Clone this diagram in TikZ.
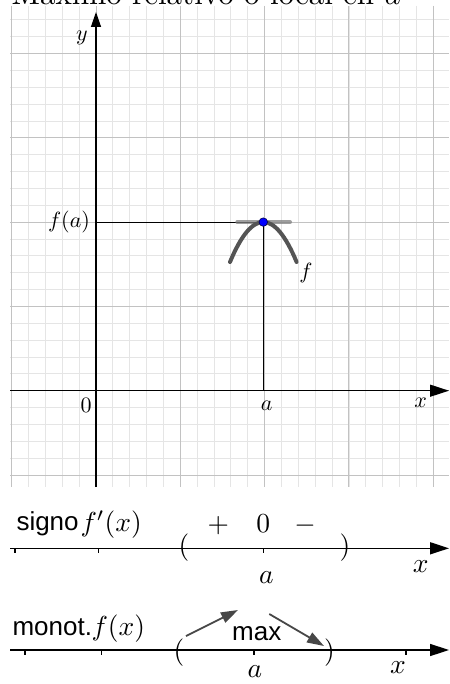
\documentclass[tikz,border=0pt]{standalone}
\usepackage{fontspec}
\setsansfont{Liberation Sans}
\usetikzlibrary{arrows.meta}
\begin{document}
\begin{tikzpicture}[x=1pt,y=-1pt,
  minorgrid/.style={draw=black!10, line width=0.8pt},
  majorgrid/.style={draw=black!24, line width=1pt},
  axis/.style={draw=black, line width=1.3pt, -{Triangle[length=15pt,width=10pt]}},
  thinline/.style={draw=black, line width=1pt},
  curve/.style={draw=black!67, line width=4pt, line cap=round},
  tangent/.style={draw=black!50, opacity=0.75, line width=4pt, line cap=round},
  pt/.style={circle, fill=blue, draw=blue!30!black, line width=0.6pt, inner sep=0pt, minimum size=8.5pt},
  lab/.style={font=\fontsize{10}{12}\selectfont, inner sep=0pt, scale=2.2},
  biglab/.style={font=\fontsize{10}{12}\selectfont, inner sep=0pt, scale=2.75},
  sans/.style={font=\fontsize{10}{12}\selectfont\sffamily, inner sep=0pt, scale=2.6},
  numline/.style={draw=black, line width=1.5pt, -{Triangle[length=19pt,width=12pt]}},
  tickmark/.style={draw=black, line width=1.2pt},
  monoarrow/.style={draw=black!72, line width=1.8pt, -{Triangle[length=17pt,width=11pt]}}
]
\useasboundingbox (0,0) rectangle (449,684);
\fill[white] (0,0) rectangle (449,684);
% title
\node[anchor=base west, inner sep=0pt, font=\fontsize{10}{12}\selectfont, scale=3.1] (title) at (11,4.5) {Máximo relativo o local en $a$};
% grid
\foreach \k in {-5,...,21} { \draw[minorgrid] ({96+16.86*\k},6) -- ({96+16.86*\k},487); }
\foreach \k in {-5,...,22} { \draw[minorgrid] (10,{390.7-16.86*\k}) -- (449,{390.7-16.86*\k}); }
\foreach \k in {-1,...,4} { \draw[majorgrid] ({96+84.3*\k},6) -- ({96+84.3*\k},487); }
\foreach \k in {-1,...,4} { \draw[majorgrid] (10,{390.7-84.3*\k}) -- (449,{390.7-84.3*\k}); }
% coordinates
\coordinate (O) at (96,390.7);
\coordinate (xstart) at (10,390.7);
\coordinate (xend) at (449,390.7);
\coordinate (ystart) at (96,487);
\coordinate (yend) at (96,12);
\coordinate (A) at (263.3,390.7);
\coordinate (FA) at (96,222.1);
\coordinate (cl) at (230,262);
\coordinate (cr) at (296.6,262);
\coordinate (tl) at (237.3,222.1);
\coordinate (tr) at (290,222.1);
\coordinate (P) at (263.3,222.1);
% lines
\draw[thinline] (FA) -- (P);
\draw[thinline] (P) -- (A);
\draw[axis, -{Triangle[length=19pt,width=12pt]}] (xstart) -- (xend);
\draw[axis] (ystart) -- (yend);
\draw[tangent] (tl) -- (tr);
\draw[curve] (cl) .. controls (252.2,208.7) and (274.4,208.7) .. (cr);
\node[pt] (Pt) at (P) {};
% labels
\node[lab] (ylab) at (82,38) {$y$};
\node[lab] (zero) at (86,405) {$0$};
\node[lab] (alab) at (266.7,406) {$a$};
\node[lab] (xlab) at (420.7,402.7) {$x$};
\node[lab] (falab) at (69,222) {$f(a)$};
\node[lab] (flab) at (306,273) {$f$};
% sign line
\coordinate (s0) at (10,548.3);
\coordinate (s1) at (449,548.3);
\draw[numline] (s0) -- (s1);
\foreach \t in {15,98.3,263.3} { \draw[tickmark] (\t,548.3) -- (\t,553); }
\node[biglab] (lp1) at (184,548) {$($};
\node[biglab] (rp1) at (345,548) {$)$};
\node[biglab, anchor=base] (plus) at (218.3,532) {$+$};
\node[biglab, anchor=base] (zero2) at (263.3,532) {$0$};
\node[biglab, anchor=base] (minus) at (305,532) {$-$};
\node[biglab, anchor=base] (a2) at (266.5,583) {$a$};
\node[biglab, anchor=base] (x2) at (420.7,572) {$x$};
\node[sans, anchor=base west] (signo) at (16,530) {signo};
\node[biglab, anchor=base west] (fp) at (80,531.5) {$f'(x)$};
% monotonicity line
\coordinate (m0) at (10,650);
\coordinate (m1) at (449,650);
\draw[numline] (m0) -- (m1);
\foreach \t in {25,101.7,254,406} { \draw[tickmark] (\t,650) -- (\t,654.7); }
\node[biglab] (lp2) at (179,652.5) {$($};
\node[biglab] (rp2) at (329.5,652.5) {$)$};
\node[sans, anchor=base west] (monot) at (12,635) {monot.};
\node[sans, anchor=base] (max) at (256.7,640) {max};
\node[biglab, anchor=base] (a3) at (255,677) {$a$};
\node[biglab, anchor=base] (x3) at (398,673) {$x$};
\node[biglab, anchor=base west] (fx) at (91,635.8) {$f(x)$};
\coordinate (u0) at (186,636);
\coordinate (u1) at (238,610);
\coordinate (d0) at (269.3,614);
\coordinate (d1) at (324,646);
\draw[monoarrow] (u0) -- (u1);
\draw[monoarrow] (d0) -- (d1);
\end{tikzpicture}
\end{document}
